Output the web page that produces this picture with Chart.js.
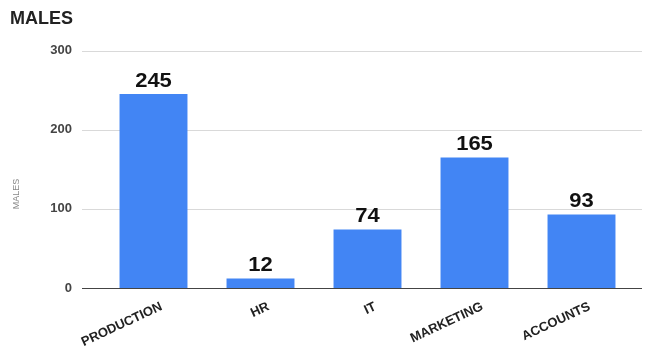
<!DOCTYPE html>
<html>
<head>
<meta charset="utf-8">
<script src="https://cdn.jsdelivr.net/npm/chart.js@4"></script>
<style>
  html, body { margin: 0; padding: 0; background: #fff; }
  #wrap { width: 650px; height: 351px; }
</style>
</head>
<body>
<div id="wrap"><canvas id="malesChart"></canvas></div>
<script>
// chart data
const departments = ["PRODUCTION", "HR", "IT", "MARKETING", "ACCOUNTS"];
const males = [245, 12, 74, 165, 93];
const yTicks = [0, 100, 200, 300];

const FONT = "'Liberation Sans', Arial, sans-serif";

// draws the horizontal grid lines a bit wider than the plot, plus the axis title
const gridLines = {
  id: "gridLines",
  beforeDatasetsDraw(chart) {
    const ctx = chart.ctx;
    const y = chart.scales.y;
    const area = chart.chartArea;
    ctx.save();
    yTicks.forEach((t) => {
      const py = Math.round(y.getPixelForValue(t)) + 0.5;
      ctx.strokeStyle = t === 0 ? "#444" : "#d9d9d9";
      ctx.lineWidth = 1;
      ctx.beginPath();
      ctx.moveTo(area.left - 18, py);
      ctx.lineTo(area.right + 7, py);
      ctx.stroke();
    });
    // y axis title sits a bit below the middle in the original
    ctx.translate(17, 194);
    ctx.rotate(-Math.PI / 2);
    ctx.font = "9px " + FONT;
    ctx.fillStyle = "#888";
    ctx.textAlign = "center";
    ctx.textBaseline = "middle";
    ctx.fillText("MALES", 0, 0);
    ctx.restore();
  },
};

// value labels above each bar (original text is a little wide)
const valueLabels = {
  id: "valueLabels",
  afterDatasetsDraw(chart) {
    const ctx = chart.ctx;
    const meta = chart.getDatasetMeta(0);
    meta.data.forEach((bar, i) => {
      ctx.save();
      ctx.translate(bar.x, bar.y - 3);
      ctx.scale(1.1, 1);
      ctx.font = "bold 20px " + FONT;
      ctx.fillStyle = "#111";
      ctx.textAlign = "center";
      ctx.textBaseline = "bottom";
      ctx.fillText(String(males[i]), 0, 0);
      ctx.restore();
    });
  },
};

new Chart(document.getElementById("malesChart"), {
  type: "bar",
  data: {
    labels: departments,
    datasets: [
      {
        label: "MALES",
        data: males,
        backgroundColor: "#4285F4",
        categoryPercentage: 1,
        barPercentage: 0.635,
      },
    ],
  },
  options: {
    responsive: true,
    maintainAspectRatio: false,
    animation: false,
    layout: { padding: { left: 10, right: 15, top: 0, bottom: 0 } },
    plugins: {
      legend: { display: false },
      tooltip: { enabled: false },
      title: {
        display: true,
        text: "MALES",
        align: "start",
        color: "#222",
        font: { family: FONT, size: 18, weight: "bold" },
        padding: { top: 8, bottom: 21 },
      },
    },
    scales: {
      x: {
        grid: { display: false, drawTicks: false },
        border: { display: false },
        ticks: {
          color: "#222",
          font: { family: FONT, size: 13, weight: "bold" },
          maxRotation: 25,
          minRotation: 25,
          padding: 11,
          labelOffset: 8,
        },
        afterFit(scale) {
          scale.height = 63;
        },
      },
      y: {
        min: 0,
        max: 300,
        afterBuildTicks(scale) {
          scale.ticks = yTicks.map((v) => ({ value: v }));
        },
        grid: { display: false, drawTicks: false },
        border: { display: false },
        ticks: {
          color: "#444",
          font: { family: FONT, size: 13, weight: "bold" },
          padding: 28,
        },
        afterFit(scale) {
          scale.width = 90;
        },
      },
    },
  },
  plugins: [gridLines, valueLabels],
});
</script>
</body>
</html>
